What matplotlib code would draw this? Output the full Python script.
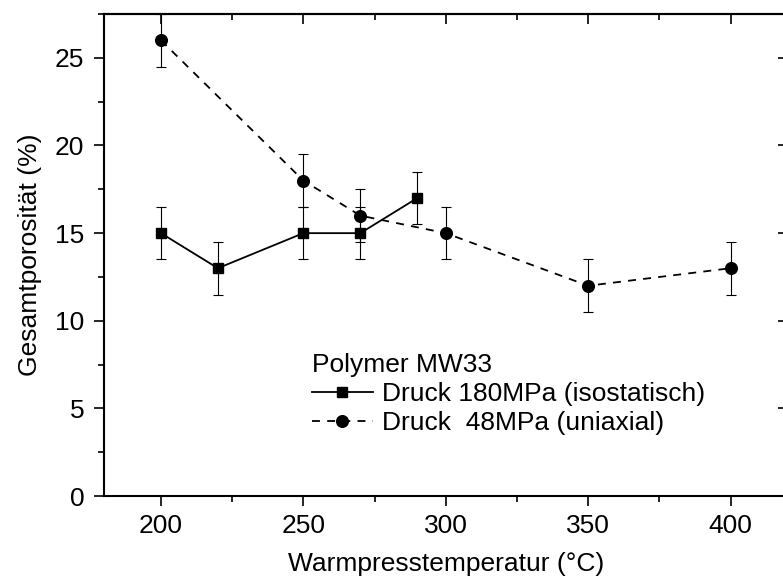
"""Gesamtporosität vs. Warmpresstemperatur for polymer MW33."""

import matplotlib.pyplot as plt
from matplotlib.ticker import MultipleLocator

plt.rcParams["font.family"] = ["Liberation Sans", "DejaVu Sans"]

TEMP_ISO = [200, 220, 250, 270, 290]
PORO_ISO = [15, 13, 15, 15, 17]
ERR_ISO = [1.5, 1.5, 1.5, 1.5, 1.5]

TEMP_UNI = [200, 250, 270, 300, 350, 400]
PORO_UNI = [26, 18, 16, 15, 12, 13]
ERR_UNI = [1.5, 1.5, 1.5, 1.5, 1.5, 1.5]

LABEL_ISO = "Druck 180MPa (isostatisch)"
LABEL_UNI = "Druck  48MPa (uniaxial)"
FS = 19


def main() -> None:
    fig = plt.figure(figsize=(7.83, 5.83), dpi=100)
    ax = fig.add_axes([0.1328, 0.149, 0.873, 0.827])

    err_kw = dict(fmt="none", ecolor="black", elinewidth=0.8, capsize=3.6, capthick=0.8)
    ax.errorbar(TEMP_ISO, PORO_ISO, yerr=ERR_ISO, **err_kw)
    ax.errorbar(TEMP_UNI, PORO_UNI, yerr=ERR_UNI, **err_kw)
    ax.plot(TEMP_ISO, PORO_ISO, "-", color="black", lw=1.3, marker="s", ms=7, label=LABEL_ISO)
    ax.plot(TEMP_UNI, PORO_UNI, "--", color="black", lw=1.3, marker="o", ms=8.4,
            dashes=(4.4, 4), label=LABEL_UNI)

    ax.set_xlim(180, 420)
    ax.set_ylim(0, 27.5)
    ax.xaxis.set_major_locator(MultipleLocator(50))
    ax.xaxis.set_minor_locator(MultipleLocator(25))
    ax.yaxis.set_major_locator(MultipleLocator(5))
    ax.yaxis.set_minor_locator(MultipleLocator(2.5))

    ax.tick_params(which="both", direction="out", labelsize=FS, width=1.2)
    ax.tick_params(which="major", length=7.2)
    ax.tick_params(which="minor", length=4.3)
    ax.tick_params(axis="x", pad=6)
    ax.tick_params(axis="y", pad=7)
    # secondary ticks on top/right point inward
    top = ax.secondary_xaxis("top")
    top.xaxis.set_major_locator(MultipleLocator(50))
    top.xaxis.set_minor_locator(MultipleLocator(25))
    top.tick_params(which="both", direction="in", labeltop=False, width=1.2)
    top.tick_params(which="major", length=7.2)
    top.tick_params(which="minor", length=4.3)
    top.spines["top"].set_linewidth(1.5)
    right = ax.secondary_yaxis("right")
    right.yaxis.set_major_locator(MultipleLocator(5))
    right.tick_params(direction="in", labelright=False, length=7.2, width=1.2)
    ax.spines[:].set_linewidth(1.5)

    ax.set_xlabel("Warmpresstemperatur (°C)", fontsize=FS, labelpad=10)
    ax.set_ylabel("Gesamtporosität (%)", fontsize=FS, labelpad=9)

    leg = ax.legend(
        title="Polymer MW33",
        loc="upper left",
        bbox_to_anchor=(0.285, 0.325),
        frameon=False,
        fontsize=FS,
        title_fontsize=FS,
        alignment="left",
        borderpad=0,
        handlelength=2.3,
        handletextpad=0.35,
        labelspacing=0.2,
    )
    leg._legend_box.sep = 4

    fig.savefig("out.png", dpi=100)


if __name__ == "__main__":
    main()
